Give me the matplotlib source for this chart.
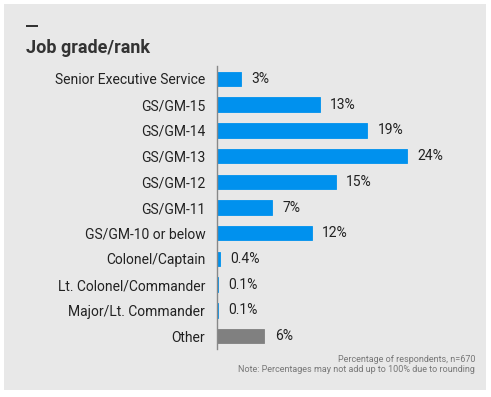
import matplotlib.pyplot as plt
from matplotlib.patches import Rectangle

# dados do gráfico
categorias = ["Senior Executive Service", "GS/GM-15", "GS/GM-14", "GS/GM-13",
              "GS/GM-12", "GS/GM-11", "GS/GM-10 or below", "Colonel/Captain",
              "Lt. Colonel/Commander", "Major/Lt. Commander", "Other"]
valores = [3, 13, 19, 24, 15, 7, 12, 0.4, 0.1, 0.1, 6]
rotulos = ["3%", "13%", "19%", "24%", "15%", "7%", "12%", "0.4%", "0.1%", "0.1%", "6%"]
cores = ["#0091ee"] * 10 + ["#808080"]

plt.rcParams['font.family'] = ['Roboto', 'DejaVu Sans']

W, H = 491, 397
fig = plt.figure(figsize=(W / 100, H / 100), dpi=100)
fig.patch.set_facecolor('white')

# painel cinza de fundo
fig.patches.append(Rectangle((4 / W, 7 / H), 482 / W, 386 / H, transform=fig.transFigure,
                             facecolor='#e8e8e8', edgecolor='none', zorder=-10))

# traço e título
fig.patches.append(Rectangle((26 / W, (H - 27) / H), 12 / W, 2 / H, transform=fig.transFigure,
                             facecolor='#333333', edgecolor='none', zorder=-5))
fig.text(26 / W, (H - 53) / H, "Job grade/rank", fontsize=13, fontweight='bold',
         color='#333333', ha='left', va='baseline')

ax = fig.add_axes([217 / W, (H - 349) / H, 243 / W, 283 / H])
ax.set_zorder(5)
ax.set_facecolor('none')
y = list(range(len(categorias)))
ax.barh(y, valores, height=0.56, color=cores, edgecolor=cores, linewidth=0.6)
ax.set_ylim(len(categorias) - 0.5, -0.5)
ax.set_xlim(0, 30.7)
ax.set_yticks(y)
ax.set_yticklabels(categorias, fontsize=10, color='#222222')
ax.tick_params(axis='y', length=0, pad=8.5)
ax.set_xticks([])
for s in ['top', 'right', 'bottom']:
    ax.spines[s].set_visible(False)
ax.spines['left'].set_color('#888888')
ax.spines['left'].set_linewidth(1)

for yi, v, r in zip(y, valores, rotulos):
    ax.text(v + 1.3, yi, r, fontsize=10, color='#222222', va='center', ha='left')

# notas de rodapé
fig.text(475 / W, (H - 359) / H, "Percentage of respondents, n=670", fontsize=6.5,
         color='#777777', ha='right', va='center')
fig.text(475 / W, (H - 369) / H, "Note: Percentages may not add up to 100% due to rounding",
         fontsize=6.5, color='#777777', ha='right', va='center')

fig.savefig('out.png', dpi=100)
